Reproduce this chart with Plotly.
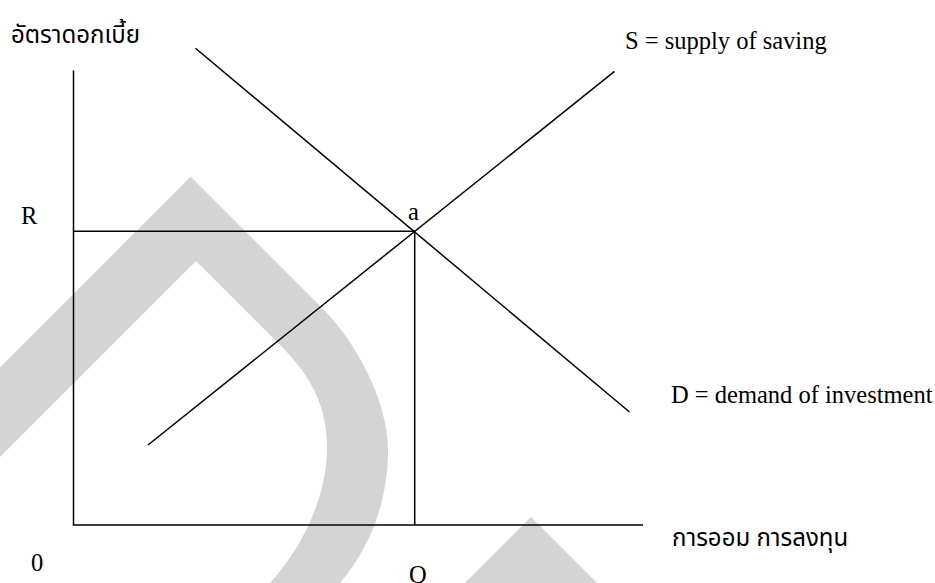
import plotly.graph_objects as go

# ---- data (axis units; origin at the corner of the axes) ----
supply_x = [74.5, 541.0]
supply_y = [80.0, 453.6]
demand_x = [122.0, 556.0]
demand_y = [476.7, 113.0]
eq_q = 341.2          # Q
eq_r = 293.8          # R
axis_top = 454.4
axis_right = 569.5

y_title = "อัตราดอกเบี้ย"
x_title = "การออม การลงทุน"
s_label = "S = supply of saving"
d_label = "D = demand of investment"

W, H = 935, 583
X0, Y0 = 73.5, 525.0   # pixel position of origin


def px(x, y):
    """pixel -> data conversion (for decorative items only)"""
    return x - X0, Y0 - y


fig = go.Figure()
line = dict(color="black", width=1.5)

# axes
fig.add_trace(go.Scatter(x=[0, 0, axis_right], y=[axis_top, 0, 0], mode="lines", line=line, hoverinfo="skip"))
# supply & demand
fig.add_trace(go.Scatter(x=supply_x, y=supply_y, mode="lines", line=line, hoverinfo="skip"))
fig.add_trace(go.Scatter(x=demand_x, y=demand_y, mode="lines", line=line, hoverinfo="skip"))
# equilibrium guides
fig.add_trace(go.Scatter(x=[0, eq_q, eq_q], y=[eq_r, eq_r, 0], mode="lines", line=line, hoverinfo="skip"))

# ---- watermark (decorative) ----
def P(x, y):
    a, b = px(x, y)
    return f"{a:.1f},{b:.1f}"

wm_path = (
    f"M {P(-60, 427.4)} L {P(190.7, 176.7)} L {P(323, 309)} "
    f"C {P(355, 341)} {P(388, 400)} {P(388, 450)} "
    f"C {P(388, 505)} {P(368, 550)} {P(340, 583)} "
    f"L {P(323, 603)} L {P(252, 603)} L {P(270, 583)} "
    f"C {P(300, 550)} {P(327, 500)} {P(327, 447)} "
    f"C {P(327, 400)} {P(305, 370)} {P(280, 345)} "
    f"L {P(196, 261)} L {P(-60, 517)} Z"
)
tri_path = f"M {P(531, 517)} L {P(620, 606)} L {P(442, 606)} Z"
wm = "rgb(212,212,212)"
shapes = [
    dict(type="path", path=wm_path, fillcolor=wm, line=dict(width=0), layer="below"),
    dict(type="path", path=tri_path, fillcolor=wm, line=dict(width=0), layer="below"),
]

serif = dict(family="Liberation Serif, Times New Roman, serif", size=24.5, color="black")
thai = dict(family="Noto Sans Thai, Loma, Garuda, Norasi, sans-serif", size=24, color="black")

def ann(text, x, y, font, xanchor="left"):
    a, b = px(x, y)
    return dict(text=text, x=a, y=b, xref="x", yref="y", showarrow=False,
                font=font, xanchor=xanchor, yanchor="middle")

annotations = [
    ann(y_title, 9, 36, thai),
    ann(s_label, 623, 40, serif),
    ann("R", 29, 215, serif, "center"),
    ann("a", 413, 211, serif, "center"),
    ann(d_label, 669, 394, serif),
    ann(x_title, 670, 539, thai),
    ann("0", 37, 562, serif, "center"),
    ann("Q", 418, 574, serif, "center"),
]

fig.update_layout(
    width=W, height=H, autosize=False,
    margin=dict(l=0, r=0, t=0, b=0),
    paper_bgcolor="white", plot_bgcolor="white",
    showlegend=False,
    xaxis=dict(range=[-X0, W - X0], visible=False, fixedrange=True),
    yaxis=dict(range=[Y0 - H, Y0], visible=False, fixedrange=True),
    shapes=shapes,
    annotations=annotations,
)

fig.write_html(
    "out.html",
    config={"displayModeBar": False},
    post_script="document.body.style.margin='0';document.body.style.overflow='hidden';",
)
